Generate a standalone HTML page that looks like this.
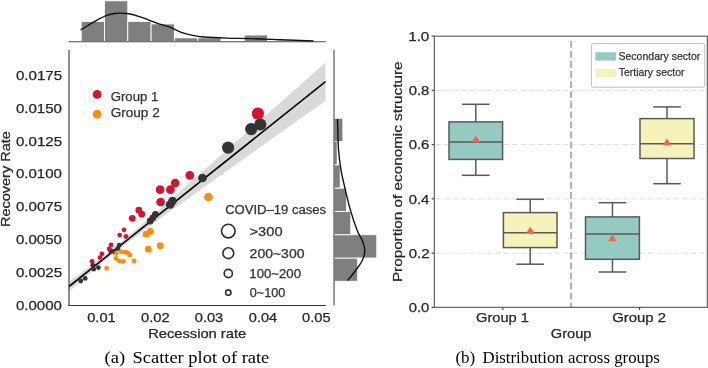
<!DOCTYPE html>
<html><head><meta charset="utf-8"><style>
html,body{margin:0;padding:0;background:#fff;width:708px;height:368px;overflow:hidden}
svg{display:block;will-change:transform}
</style></head><body>
<svg width="708" height="368" viewBox="0 0 708 368">
<rect width="708" height="368" fill="#fff"/>
<rect x="81.20" y="21.40" width="23.30" height="20.30" fill="#7f7f7f" stroke="#fff" stroke-width="0.9"/>
<rect x="104.50" y="0.80" width="23.30" height="40.90" fill="#7f7f7f" stroke="#fff" stroke-width="0.9"/>
<rect x="127.80" y="21.40" width="23.30" height="20.30" fill="#7f7f7f" stroke="#fff" stroke-width="0.9"/>
<rect x="151.10" y="23.90" width="23.30" height="17.80" fill="#7f7f7f" stroke="#fff" stroke-width="0.9"/>
<rect x="174.40" y="37.80" width="23.30" height="3.90" fill="#7f7f7f" stroke="#fff" stroke-width="0.9"/>
<rect x="197.70" y="37.80" width="23.30" height="3.90" fill="#7f7f7f" stroke="#fff" stroke-width="0.9"/>
<rect x="244.30" y="35.00" width="23.30" height="6.70" fill="#7f7f7f" stroke="#fff" stroke-width="0.9"/>
<line x1="68.5" y1="41.7" x2="325.8" y2="41.7" stroke="#4a4a4a" stroke-width="1.1"/>
<path d="M80.60,30.00 C82.02,29.13 86.27,26.50 89.10,24.80 C91.93,23.10 94.77,21.33 97.60,19.80 C100.43,18.27 103.28,16.65 106.10,15.60 C108.92,14.55 111.92,13.92 114.50,13.50 C117.08,13.08 119.23,13.05 121.60,13.10 C123.97,13.15 125.87,13.27 128.70,13.80 C131.53,14.33 135.32,15.30 138.60,16.30 C141.88,17.30 144.88,18.50 148.40,19.80 C151.92,21.10 156.10,22.87 159.70,24.10 C163.30,25.33 166.40,25.82 170.00,27.20 C173.60,28.58 177.53,31.03 181.30,32.40 C185.07,33.77 188.83,34.63 192.60,35.40 C196.37,36.17 198.25,36.55 203.90,37.00 C209.55,37.45 218.98,37.83 226.50,38.10 C234.02,38.37 241.47,38.38 249.00,38.60 C256.53,38.82 264.15,39.12 271.70,39.40 C279.25,39.68 287.33,40.03 294.30,40.30 C301.27,40.57 310.30,40.88 313.50,41.00" fill="none" stroke="#111" stroke-width="1.4"/>
<rect x="334.00" y="258.00" width="23.70" height="23.30" fill="#7f7f7f" stroke="#fff" stroke-width="0.9"/>
<rect x="334.00" y="234.70" width="42.80" height="23.30" fill="#7f7f7f" stroke="#fff" stroke-width="0.9"/>
<rect x="334.00" y="211.40" width="16.80" height="23.30" fill="#7f7f7f" stroke="#fff" stroke-width="0.9"/>
<rect x="334.00" y="188.10" width="12.60" height="23.30" fill="#7f7f7f" stroke="#fff" stroke-width="0.9"/>
<rect x="334.00" y="164.80" width="6.20" height="23.30" fill="#7f7f7f" stroke="#fff" stroke-width="0.9"/>
<rect x="334.00" y="141.50" width="3.20" height="23.30" fill="#7f7f7f" stroke="#fff" stroke-width="0.9"/>
<rect x="334.00" y="118.20" width="8.90" height="23.30" fill="#7f7f7f" stroke="#fff" stroke-width="0.9"/>
<line x1="334.0" y1="50" x2="334.0" y2="305.5" stroke="#4a4a4a" stroke-width="1.1"/>
<path d="M337.50,119.00 C337.67,124.00 337.93,140.62 338.50,149.00 C339.07,157.38 339.77,162.52 340.90,169.30 C342.03,176.08 343.72,182.90 345.30,189.70 C346.88,196.50 348.42,203.30 350.40,210.10 C352.38,216.90 355.18,225.35 357.20,230.50 C359.22,235.65 361.23,237.80 362.50,241.00 C363.77,244.20 364.80,246.53 364.80,249.70 C364.80,252.87 363.97,256.62 362.50,260.00 C361.03,263.38 358.48,266.57 356.00,270.00 C353.52,273.43 349.00,278.83 347.60,280.60" fill="none" stroke="#111" stroke-width="1.4"/>
<polygon points="69.00,281.50 73.35,278.35 77.69,275.18 82.04,272.00 86.39,268.81 90.74,265.59 95.08,262.34 99.43,259.06 103.78,255.74 108.13,252.38 112.47,248.97 116.82,245.50 121.17,241.98 125.52,238.40 129.86,234.78 134.21,231.12 138.56,227.43 142.91,223.71 147.25,219.96 151.60,216.20 155.95,212.42 160.30,208.63 164.64,204.83 168.99,201.03 173.34,197.21 177.69,193.39 182.03,189.57 186.38,185.74 190.73,181.90 195.08,178.07 199.42,174.23 203.77,170.39 208.12,166.54 212.47,162.70 216.81,158.85 221.16,155.01 225.51,151.16 229.86,147.31 234.20,143.46 238.55,139.61 242.90,135.75 247.25,131.90 251.59,128.05 255.94,124.19 260.29,120.34 264.64,116.48 268.98,112.63 273.33,108.77 277.68,104.91 282.03,101.06 286.37,97.20 290.72,93.34 295.07,89.48 299.42,85.63 303.76,81.77 308.11,77.91 312.46,74.05 316.81,70.19 321.15,66.33 325.50,62.47 325.50,100.80 321.15,103.88 316.81,106.97 312.46,110.05 308.11,113.14 303.76,116.22 299.42,119.31 295.07,122.40 290.72,125.48 286.37,128.57 282.03,131.66 277.68,134.74 273.33,137.83 268.98,140.92 264.64,144.01 260.29,147.10 255.94,150.19 251.59,153.28 247.25,156.37 242.90,159.46 238.55,162.55 234.20,165.65 229.86,168.74 225.51,171.83 221.16,174.93 216.81,178.03 212.47,181.13 208.12,184.23 203.77,187.33 199.42,190.43 195.08,193.54 190.73,196.65 186.38,199.76 182.03,202.87 177.69,205.99 173.34,209.12 168.99,212.25 164.64,215.38 160.30,218.53 155.95,221.68 151.60,224.85 147.25,228.03 142.91,231.23 138.56,234.46 134.21,237.71 129.86,240.99 125.52,244.32 121.17,247.69 116.82,251.11 112.47,254.59 108.13,258.12 103.78,261.70 99.43,265.33 95.08,268.99 90.74,272.69 86.39,276.42 82.04,280.16 77.69,283.93 73.35,287.71 69.00,291.50" fill="#d9d9d9"/>
<line x1="69" y1="286.50" x2="325.5" y2="81.63" stroke="#000" stroke-width="1.6"/>
<circle cx="80.7" cy="281" r="2.4" fill="#333333"/>
<circle cx="85.2" cy="278.4" r="2.4" fill="#333333"/>
<circle cx="92.9" cy="265.2" r="2.4" fill="#333333"/>
<circle cx="93.7" cy="269.2" r="2.4" fill="#333333"/>
<circle cx="98.4" cy="267.6" r="2.4" fill="#333333"/>
<circle cx="110.3" cy="250.7" r="2.4" fill="#333333"/>
<circle cx="114" cy="251.5" r="2.4" fill="#333333"/>
<circle cx="117.9" cy="248.5" r="2.4" fill="#333333"/>
<circle cx="119.3" cy="245.2" r="2.4" fill="#333333"/>
<circle cx="92.1" cy="261.4" r="2.4" fill="#d6142d"/>
<circle cx="99.9" cy="257.6" r="2.4" fill="#d6142d"/>
<circle cx="101.9" cy="253.8" r="2.4" fill="#d6142d"/>
<circle cx="109.2" cy="248.8" r="2.4" fill="#d6142d"/>
<circle cx="111" cy="245" r="2.4" fill="#d6142d"/>
<circle cx="119.7" cy="235.1" r="2.4" fill="#d6142d"/>
<circle cx="124" cy="229.8" r="2.4" fill="#d6142d"/>
<circle cx="125.9" cy="236.5" r="2.4" fill="#d6142d"/>
<circle cx="106.7" cy="268.4" r="2.4" fill="#ff8c0a"/>
<circle cx="116.3" cy="253.4" r="2.4" fill="#ff8c0a"/>
<circle cx="121.1" cy="251.6" r="2.4" fill="#ff8c0a"/>
<circle cx="125.3" cy="252.2" r="2.4" fill="#ff8c0a"/>
<circle cx="127.7" cy="252.8" r="2.4" fill="#ff8c0a"/>
<circle cx="129.8" cy="254.9" r="2.4" fill="#ff8c0a"/>
<circle cx="115.9" cy="258.5" r="2.4" fill="#ff8c0a"/>
<circle cx="119.3" cy="261" r="2.4" fill="#ff8c0a"/>
<circle cx="123.4" cy="261.3" r="2.4" fill="#ff8c0a"/>
<circle cx="134.2" cy="261" r="2.4" fill="#ff8c0a"/>
<circle cx="150.2" cy="221" r="3.4" fill="#333333"/>
<circle cx="152.8" cy="217.8" r="3.4" fill="#333333"/>
<circle cx="155.4" cy="214.5" r="3.4" fill="#333333"/>
<circle cx="132.3" cy="218.3" r="3.4" fill="#d6142d"/>
<circle cx="138.8" cy="210.2" r="3.4" fill="#d6142d"/>
<circle cx="141.7" cy="214.2" r="3.4" fill="#d6142d"/>
<circle cx="146.1" cy="234.2" r="3.4" fill="#ff8c0a"/>
<circle cx="150.3" cy="231.4" r="3.4" fill="#ff8c0a"/>
<circle cx="148.3" cy="249.2" r="3.4" fill="#ff8c0a"/>
<circle cx="160.3" cy="245.7" r="3.4" fill="#ff8c0a"/>
<circle cx="170.2" cy="204.5" r="4.35" fill="#333333"/>
<circle cx="172.5" cy="201" r="4.35" fill="#333333"/>
<circle cx="202.5" cy="178" r="4.35" fill="#333333"/>
<circle cx="160.1" cy="189.7" r="4.35" fill="#d6142d"/>
<circle cx="160.6" cy="202" r="4.35" fill="#d6142d"/>
<circle cx="170.4" cy="189.7" r="4.35" fill="#d6142d"/>
<circle cx="175.2" cy="183" r="4.35" fill="#d6142d"/>
<circle cx="189.8" cy="175.3" r="4.35" fill="#d6142d"/>
<circle cx="208.5" cy="197" r="4.35" fill="#ff8c0a"/>
<circle cx="228.1" cy="147.6" r="6.1" fill="#333333"/>
<circle cx="251.2" cy="129.1" r="6.1" fill="#333333"/>
<circle cx="260.3" cy="124.5" r="6.1" fill="#333333"/>
<circle cx="257.9" cy="113.6" r="6.1" fill="#d6142d"/>
<line x1="69" y1="50" x2="69" y2="305.8" stroke="#333" stroke-width="1.1"/>
<line x1="68.5" y1="305.5" x2="325.8" y2="305.5" stroke="#333" stroke-width="1.0"/>
<text x="87.16" y="322.20" font-size="13" fill="#262626" stroke="#262626" stroke-width="0.25" font-family='"Liberation Sans", sans-serif' textLength="28.57" lengthAdjust="spacingAndGlyphs">0.01</text>
<text x="141.06" y="322.20" font-size="13" fill="#262626" stroke="#262626" stroke-width="0.25" font-family='"Liberation Sans", sans-serif' textLength="28.64" lengthAdjust="spacingAndGlyphs">0.02</text>
<text x="194.76" y="322.20" font-size="13" fill="#262626" stroke="#262626" stroke-width="0.25" font-family='"Liberation Sans", sans-serif' textLength="28.49" lengthAdjust="spacingAndGlyphs">0.03</text>
<text x="248.87" y="322.20" font-size="13" fill="#262626" stroke="#262626" stroke-width="0.25" font-family='"Liberation Sans", sans-serif' textLength="28.34" lengthAdjust="spacingAndGlyphs">0.04</text>
<text x="302.06" y="322.20" font-size="13" fill="#262626" stroke="#262626" stroke-width="0.25" font-family='"Liberation Sans", sans-serif' textLength="28.49" lengthAdjust="spacingAndGlyphs">0.05</text>
<text x="15.90" y="309.90" font-size="13" fill="#262626" stroke="#262626" stroke-width="0.25" font-family='"Liberation Sans", sans-serif' textLength="46.11" lengthAdjust="spacingAndGlyphs">0.0000</text>
<text x="15.90" y="277.03" font-size="13" fill="#262626" stroke="#262626" stroke-width="0.25" font-family='"Liberation Sans", sans-serif' textLength="46.19" lengthAdjust="spacingAndGlyphs">0.0025</text>
<text x="15.90" y="244.16" font-size="13" fill="#262626" stroke="#262626" stroke-width="0.25" font-family='"Liberation Sans", sans-serif' textLength="46.11" lengthAdjust="spacingAndGlyphs">0.0050</text>
<text x="15.90" y="211.29" font-size="13" fill="#262626" stroke="#262626" stroke-width="0.25" font-family='"Liberation Sans", sans-serif' textLength="46.19" lengthAdjust="spacingAndGlyphs">0.0075</text>
<text x="15.90" y="178.42" font-size="13" fill="#262626" stroke="#262626" stroke-width="0.25" font-family='"Liberation Sans", sans-serif' textLength="46.11" lengthAdjust="spacingAndGlyphs">0.0100</text>
<text x="15.90" y="145.55" font-size="13" fill="#262626" stroke="#262626" stroke-width="0.25" font-family='"Liberation Sans", sans-serif' textLength="46.19" lengthAdjust="spacingAndGlyphs">0.0125</text>
<text x="15.90" y="112.68" font-size="13" fill="#262626" stroke="#262626" stroke-width="0.25" font-family='"Liberation Sans", sans-serif' textLength="46.11" lengthAdjust="spacingAndGlyphs">0.0150</text>
<text x="15.90" y="79.81" font-size="13" fill="#262626" stroke="#262626" stroke-width="0.25" font-family='"Liberation Sans", sans-serif' textLength="46.19" lengthAdjust="spacingAndGlyphs">0.0175</text>
<text x="148.23" y="338.00" font-size="13" fill="#262626" stroke="#262626" stroke-width="0.25" font-family='"Liberation Sans", sans-serif' textLength="97.94" lengthAdjust="spacingAndGlyphs">Recession rate</text>
<text transform="translate(10.40,227.06) rotate(-90)" x="0" y="0" font-size="13.5" fill="#262626" stroke="#262626" stroke-width="0.25" font-family='"Liberation Sans", sans-serif' textLength="95.90" lengthAdjust="spacingAndGlyphs">Recovery Rate</text>
<circle cx="97.1" cy="94.4" r="4.4" fill="#d6142d"/>
<circle cx="97.1" cy="114.1" r="4.4" fill="#ff8c0a"/>
<text x="110.74" y="101.00" font-size="12.8" fill="#333" stroke="#333" stroke-width="0.25" font-family='"Liberation Sans", sans-serif' textLength="47.60" lengthAdjust="spacingAndGlyphs">Group 1</text>
<text x="110.72" y="116.90" font-size="12.8" fill="#333" stroke="#333" stroke-width="0.25" font-family='"Liberation Sans", sans-serif' textLength="49.00" lengthAdjust="spacingAndGlyphs">Group 2</text>
<text x="225.15" y="213.60" font-size="12" fill="#333" stroke="#333" stroke-width="0.25" font-family='"Liberation Sans", sans-serif' textLength="101.02" lengthAdjust="spacingAndGlyphs">COVID–19 cases</text>
<circle cx="228.3" cy="231.1" r="6.8" fill="none" stroke="#2e2e2e" stroke-width="1.6"/>
<text x="249.57" y="235.70" font-size="12" fill="#333" stroke="#333" stroke-width="0.25" font-family='"Liberation Sans", sans-serif' textLength="32.98" lengthAdjust="spacingAndGlyphs">&gt;300</text>
<circle cx="228.3" cy="253.2" r="5.4" fill="none" stroke="#2e2e2e" stroke-width="1.6"/>
<text x="249.60" y="257.80" font-size="12" fill="#333" stroke="#333" stroke-width="0.25" font-family='"Liberation Sans", sans-serif' textLength="54.90" lengthAdjust="spacingAndGlyphs">200~300</text>
<circle cx="228.3" cy="273.5" r="4.1" fill="none" stroke="#2e2e2e" stroke-width="1.6"/>
<text x="249.31" y="278.10" font-size="12" fill="#333" stroke="#333" stroke-width="0.25" font-family='"Liberation Sans", sans-serif' textLength="51.77" lengthAdjust="spacingAndGlyphs">100~200</text>
<circle cx="228.3" cy="292.6" r="2.7" fill="none" stroke="#2e2e2e" stroke-width="1.6"/>
<text x="249.79" y="297.20" font-size="12" fill="#333" stroke="#333" stroke-width="0.25" font-family='"Liberation Sans", sans-serif' textLength="35.53" lengthAdjust="spacingAndGlyphs">0~100</text>
<line x1="434.3" y1="253.14" x2="707.3" y2="253.14" stroke="#dedede" stroke-width="1" stroke-dasharray="5.7,2.8" stroke-dashoffset="-1.3"/>
<line x1="434.3" y1="198.88" x2="707.3" y2="198.88" stroke="#dedede" stroke-width="1" stroke-dasharray="5.7,2.8" stroke-dashoffset="-1.3"/>
<line x1="434.3" y1="144.62" x2="707.3" y2="144.62" stroke="#dedede" stroke-width="1" stroke-dasharray="5.7,2.8" stroke-dashoffset="-1.3"/>
<line x1="434.3" y1="90.36" x2="707.3" y2="90.36" stroke="#dedede" stroke-width="1" stroke-dasharray="5.7,2.8" stroke-dashoffset="-1.3"/>
<line x1="571.1" y1="40.9" x2="571.1" y2="307" stroke="#b0b0b0" stroke-width="2" stroke-dasharray="6.8,3.27"/>
<line x1="475.80" y1="104.3" x2="475.80" y2="121.9" stroke="#5a5a5a" stroke-width="1.5"/>
<line x1="475.80" y1="159.4" x2="475.80" y2="175.3" stroke="#5a5a5a" stroke-width="1.5"/>
<line x1="462.00" y1="104.3" x2="489.60" y2="104.3" stroke="#5a5a5a" stroke-width="1.5"/>
<line x1="462.00" y1="175.3" x2="489.60" y2="175.3" stroke="#5a5a5a" stroke-width="1.5"/>
<rect x="449.0" y="121.9" width="53.60" height="37.50" fill="#95cac0" stroke="#5a5a5a" stroke-width="1.5"/>
<line x1="449.0" y1="142.0" x2="502.6" y2="142.0" stroke="#5a5a5a" stroke-width="1.5"/>
<polygon points="475.80,135.4 471.50,142.20 480.10,142.20" fill="#fa5f4a"/>
<line x1="530.20" y1="199.3" x2="530.20" y2="212.6" stroke="#5a5a5a" stroke-width="1.5"/>
<line x1="530.20" y1="247.6" x2="530.20" y2="264.2" stroke="#5a5a5a" stroke-width="1.5"/>
<line x1="516.40" y1="199.3" x2="544.00" y2="199.3" stroke="#5a5a5a" stroke-width="1.5"/>
<line x1="516.40" y1="264.2" x2="544.00" y2="264.2" stroke="#5a5a5a" stroke-width="1.5"/>
<rect x="503.4" y="212.6" width="53.60" height="35.00" fill="#f5f3b9" stroke="#5a5a5a" stroke-width="1.5"/>
<line x1="503.4" y1="232.8" x2="557.0" y2="232.8" stroke="#5a5a5a" stroke-width="1.5"/>
<polygon points="530.20,226.7 525.90,233.50 534.50,233.50" fill="#fa5f4a"/>
<line x1="612.45" y1="202.7" x2="612.45" y2="216.9" stroke="#5a5a5a" stroke-width="1.5"/>
<line x1="612.45" y1="259.3" x2="612.45" y2="272.0" stroke="#5a5a5a" stroke-width="1.5"/>
<line x1="598.65" y1="202.7" x2="626.25" y2="202.7" stroke="#5a5a5a" stroke-width="1.5"/>
<line x1="598.65" y1="272.0" x2="626.25" y2="272.0" stroke="#5a5a5a" stroke-width="1.5"/>
<rect x="585.5" y="216.9" width="53.90" height="42.40" fill="#95cac0" stroke="#5a5a5a" stroke-width="1.5"/>
<line x1="585.5" y1="234.1" x2="639.4" y2="234.1" stroke="#5a5a5a" stroke-width="1.5"/>
<polygon points="612.45,234.5 608.15,241.30 616.75,241.30" fill="#fa5f4a"/>
<line x1="667.00" y1="106.9" x2="667.00" y2="118.6" stroke="#5a5a5a" stroke-width="1.5"/>
<line x1="667.00" y1="158.5" x2="667.00" y2="183.7" stroke="#5a5a5a" stroke-width="1.5"/>
<line x1="653.20" y1="106.9" x2="680.80" y2="106.9" stroke="#5a5a5a" stroke-width="1.5"/>
<line x1="653.20" y1="183.7" x2="680.80" y2="183.7" stroke="#5a5a5a" stroke-width="1.5"/>
<rect x="640.0" y="118.6" width="54.00" height="39.90" fill="#f5f3b9" stroke="#5a5a5a" stroke-width="1.5"/>
<line x1="640.0" y1="143.8" x2="694.0" y2="143.8" stroke="#5a5a5a" stroke-width="1.5"/>
<polygon points="667.00,138.4 662.70,145.20 671.30,145.20" fill="#fa5f4a"/>
<rect x="434.3" y="36.2" width="273.00" height="271.10" fill="none" stroke="#555" stroke-width="1.1"/>
<line x1="431.6" y1="307.40" x2="434.3" y2="307.40" stroke="#444" stroke-width="1.1"/>
<line x1="431.6" y1="253.14" x2="434.3" y2="253.14" stroke="#444" stroke-width="1.1"/>
<line x1="431.6" y1="198.88" x2="434.3" y2="198.88" stroke="#444" stroke-width="1.1"/>
<line x1="431.6" y1="144.62" x2="434.3" y2="144.62" stroke="#444" stroke-width="1.1"/>
<line x1="431.6" y1="90.36" x2="434.3" y2="90.36" stroke="#444" stroke-width="1.1"/>
<line x1="431.6" y1="36.10" x2="434.3" y2="36.10" stroke="#444" stroke-width="1.1"/>
<line x1="502.9" y1="307.3" x2="502.9" y2="310" stroke="#444" stroke-width="1.1"/>
<line x1="639.6" y1="307.3" x2="639.6" y2="310" stroke="#444" stroke-width="1.1"/>
<text x="408.71" y="312.20" font-size="13" fill="#262626" stroke="#262626" stroke-width="0.25" font-family='"Liberation Sans", sans-serif' textLength="20.61" lengthAdjust="spacingAndGlyphs">0.0</text>
<text x="408.70" y="257.94" font-size="13" fill="#262626" stroke="#262626" stroke-width="0.25" font-family='"Liberation Sans", sans-serif' textLength="20.85" lengthAdjust="spacingAndGlyphs">0.2</text>
<text x="408.71" y="203.68" font-size="13" fill="#262626" stroke="#262626" stroke-width="0.25" font-family='"Liberation Sans", sans-serif' textLength="20.54" lengthAdjust="spacingAndGlyphs">0.4</text>
<text x="408.70" y="149.42" font-size="13" fill="#262626" stroke="#262626" stroke-width="0.25" font-family='"Liberation Sans", sans-serif' textLength="20.69" lengthAdjust="spacingAndGlyphs">0.6</text>
<text x="408.70" y="95.16" font-size="13" fill="#262626" stroke="#262626" stroke-width="0.25" font-family='"Liberation Sans", sans-serif' textLength="20.69" lengthAdjust="spacingAndGlyphs">0.8</text>
<text x="408.16" y="40.90" font-size="13" fill="#262626" stroke="#262626" stroke-width="0.25" font-family='"Liberation Sans", sans-serif' textLength="21.18" lengthAdjust="spacingAndGlyphs">1.0</text>
<text transform="translate(402.20,282.12) rotate(-90)" x="0" y="0" font-size="13.4" fill="#262626" stroke="#262626" stroke-width="0.25" font-family='"Liberation Sans", sans-serif' textLength="220.63" lengthAdjust="spacingAndGlyphs">Proportion of economic structure</text>
<text x="476.07" y="321.80" font-size="13" fill="#262626" stroke="#262626" stroke-width="0.25" font-family='"Liberation Sans", sans-serif' textLength="52.84" lengthAdjust="spacingAndGlyphs">Group 1</text>
<text x="612.25" y="321.90" font-size="13" fill="#262626" stroke="#262626" stroke-width="0.25" font-family='"Liberation Sans", sans-serif' textLength="53.84" lengthAdjust="spacingAndGlyphs">Group 2</text>
<text x="550.87" y="337.60" font-size="13" fill="#262626" stroke="#262626" stroke-width="0.25" font-family='"Liberation Sans", sans-serif' textLength="40.61" lengthAdjust="spacingAndGlyphs">Group</text>
<rect x="591.4" y="43.6" width="113.4" height="43.6" rx="2" fill="#fff" fill-opacity="0.85" stroke="#bdbdbd" stroke-width="1"/>
<rect x="595.4" y="52.2" width="20.5" height="8.4" fill="#95cac0"/>
<rect x="595.4" y="68.6" width="20.5" height="8.4" fill="#f5f3b9"/>
<text x="618.43" y="60.30" font-size="11.4" fill="#333" stroke="#333" stroke-width="0.25" font-family='"Liberation Sans", sans-serif' textLength="81.95" lengthAdjust="spacingAndGlyphs">Secondary sector</text>
<text x="618.69" y="76.30" font-size="11.4" fill="#333" stroke="#333" stroke-width="0.25" font-family='"Liberation Sans", sans-serif' textLength="65.91" lengthAdjust="spacingAndGlyphs">Tertiary sector</text>
<text x="104.57" y="362.80" font-size="17.5" fill="#000" stroke="#000" stroke-width="0" font-family='"Liberation Serif", serif' textLength="20.57" lengthAdjust="spacingAndGlyphs">(a)</text>
<text x="132.50" y="362.80" font-size="17.5" fill="#000" stroke="#000" stroke-width="0" font-family='"Liberation Serif", serif' textLength="136.82" lengthAdjust="spacingAndGlyphs">Scatter plot of rate</text>
<text x="455.43" y="362.50" font-size="17.5" fill="#000" stroke="#000" stroke-width="0" font-family='"Liberation Serif", serif' textLength="19.87" lengthAdjust="spacingAndGlyphs">(b)</text>
<text x="482.50" y="362.50" font-size="17.5" fill="#000" stroke="#000" stroke-width="0" font-family='"Liberation Serif", serif' textLength="177.39" lengthAdjust="spacingAndGlyphs">Distribution across groups</text>
</svg>
</body></html>
